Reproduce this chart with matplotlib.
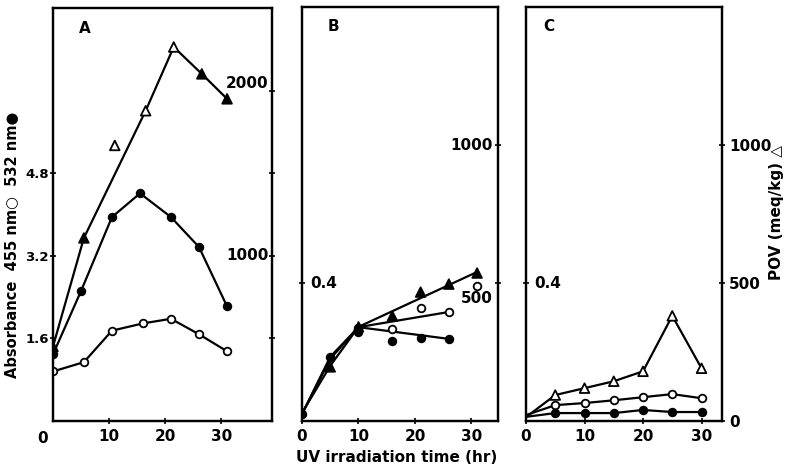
import numpy as np
import matplotlib.pyplot as plt
import matplotlib.transforms as mtransforms

plt.rcParams['font.family'] = ['DejaVu Sans']
plt.rcParams['font.weight'] = 'bold'

# panel A
tA_532 = [0, 5, 10.5, 15.5, 21, 26, 31]
abs532_A = [1.29, 2.52, 3.95, 4.41, 3.95, 3.37, 2.22]
tA_455 = [0, 5.5, 10.5, 16, 21, 26, 31]
abs455_A = [0.96, 1.14, 1.75, 1.89, 1.98, 1.68, 1.35]
tA_pov = [0, 5.5, 11, 16.5, 21.5, 26.5, 31]
pov_A = [451, 1108, 1668, 1878, 2264, 2101, 1950]
povA_online = [True, True, False, True, True, True, True]
povA_filled = [True, True, False, False, False, True, True]

# panel B (points, and the hand drawn lines through them)
tB_pov = [5, 10, 16, 21, 26, 31]
pov_B = [196, 341, 380, 467, 496, 536]
tB_pov_line = [0, 5, 10, 31]
pov_B_line = [29, 200, 341, 540]
tB_532 = [0, 5, 10, 16, 21, 26]
abs532_B = [0.02, 0.186, 0.258, 0.232, 0.24, 0.238]
tB_532_line = [0, 5, 10, 26]
abs532_B_line = [0.02, 0.186, 0.272, 0.238]
tB_455 = [10, 16, 21, 26, 31]
abs455_B = [0.27, 0.267, 0.328, 0.316, 0.39]
tB_455_line = [0, 5, 10, 26]
abs455_B_line = [0.02, 0.18, 0.272, 0.316]

# panel C
tC = [0, 5, 10, 15, 20, 25, 30]
pov_C = [14, 94, 119, 144, 180, 381, 191]
abs455_C = [0.017, 0.046, 0.052, 0.06, 0.069, 0.078, 0.066]
abs532_C = [0.012, 0.023, 0.023, 0.023, 0.032, 0.026, 0.026]

W, H = 789, 467
fig = plt.figure(figsize=(W / 100, H / 100), dpi=100)


def box(x0, x1, y0, y1):
    return [x0 / W, 1 - y1 / H, (x1 - x0) / W, (y1 - y0) / H]


lw = 1.6
ms = 5.5
FS = 11


def style(ax):
    for s in ax.spines.values():
        s.set_linewidth(1.6)
    ax.tick_params(direction='inout', length=4, width=1.2, labelsize=FS)


def circles(ax, t, v, filled):
    ax.plot(t, v, 'o', ms=ms, mfc='black' if filled else 'white',
            mec='black', mew=1.3, zorder=4)


def tris(ax, t, v, faces):
    fc = ['black' if f else 'white' for f in faces]
    ax.scatter(t, v, marker='^', s=48, facecolors=fc, edgecolors='black',
               linewidths=1.3, zorder=5)


# ---- A ----
axA = fig.add_axes(box(53, 272, 8, 421))
axA.set_xlim(0, 39)
axA.set_ylim(0, 8)
axA2 = axA.twinx()
axA2.set_ylim(0, 2500)
axA.plot(tA_532, abs532_A, color='black', lw=lw)
circles(axA, tA_532, abs532_A, True)
axA.plot(tA_455, abs455_A, color='black', lw=lw)
circles(axA, tA_455, abs455_A, False)
tl = [t for t, k in zip(tA_pov, povA_online) if k]
vl = [v for v, k in zip(pov_A, povA_online) if k]
axA2.plot(tl, vl, color='black', lw=lw)
tris(axA2, tA_pov, pov_A, povA_filled)
axA.set_xticks([10, 20, 30])
axA.set_yticks([1.6, 3.2, 4.8])
axA.set_yticklabels(['1.6', '3.2', '4.8'])
axA2.set_yticks([500, 1000, 1500, 2000])
axA2.set_yticklabels([])
style(axA)
style(axA2)
axA.tick_params(axis='y', labelsize=9.5, pad=1)
trA = mtransforms.blended_transform_factory(axA2.transAxes, axA2.transData)
axA2.text(0.985, 2000, '2000', transform=trA, ha='right', va='bottom', fontsize=FS)
axA2.text(0.985, 1000, '1000', transform=trA, ha='right', va='center', fontsize=FS)
axA.text(-0.025, -0.025, '0', transform=axA.transAxes, ha='right', va='top', fontsize=FS)
axA.text(0.12, 0.95, 'A', transform=axA.transAxes, ha='left', va='center', fontsize=FS)

# ---- B ----
axB = fig.add_axes(box(302, 498, 7, 421))
axB.set_xlim(0, 34.7)
axB.set_ylim(0, 1.2)
axB2 = axB.twinx()
axB2.set_ylim(0, 1500)
axB2.plot(tB_pov_line, pov_B_line, color='black', lw=lw)
tris(axB2, tB_pov, pov_B, [True] * len(tB_pov))
axB.plot(tB_532_line, abs532_B_line, color='black', lw=lw)
circles(axB, tB_532, abs532_B, True)
axB.plot(tB_455_line, abs455_B_line, color='black', lw=lw)
circles(axB, tB_455, abs455_B, False)
axB.set_xticks([0, 10, 20, 30])
axB.set_yticks([0.4])
axB.set_yticklabels([])
axB2.set_yticks([500, 1000])
axB2.set_yticklabels([])
style(axB)
style(axB2)
trB = mtransforms.blended_transform_factory(axB.transAxes, axB.transData)
axB.text(0.04, 0.4, '0.4', transform=trB, ha='left', va='center', fontsize=FS)
trB2 = mtransforms.blended_transform_factory(axB2.transAxes, axB2.transData)
axB2.text(0.975, 1000, '1000', transform=trB2, ha='right', va='center', fontsize=FS)
axB2.text(0.975, 470, '500', transform=trB2, ha='right', va='top', fontsize=FS)
axB.text(0.13, 0.953, 'B', transform=axB.transAxes, ha='left', va='center', fontsize=FS)

# ---- C ----
axC = fig.add_axes(box(526, 722, 7, 421))
axC.set_xlim(0, 33.5)
axC.set_ylim(0, 1.2)
axC2 = axC.twinx()
axC2.set_ylim(0, 1500)
axC2.plot(tC, pov_C, color='black', lw=lw)
tris(axC2, tC[1:], pov_C[1:], [False] * (len(tC) - 1))
axC.plot(tC, abs455_C, color='black', lw=lw)
circles(axC, tC[1:], abs455_C[1:], False)
axC.plot(tC, abs532_C, color='black', lw=lw)
circles(axC, tC[1:], abs532_C[1:], True)
axC.set_xticks([0, 10, 20, 30])
axC.set_yticks([0.4])
axC.set_yticklabels([])
axC2.set_yticks([0, 500, 1000])
axC2.set_yticklabels(['0', '500', '1000'])
style(axC)
style(axC2)
axC2.tick_params(axis='y', pad=3)
trC = mtransforms.blended_transform_factory(axC.transAxes, axC.transData)
axC.text(0.04, 0.4, '0.4', transform=trC, ha='left', va='center', fontsize=FS)
axC.text(0.087, 0.953, 'C', transform=axC.transAxes, ha='left', va='center', fontsize=FS)

fig.text(397 / W, 1 - 458 / H, 'UV irradiation time (hr)', ha='center', va='center', fontsize=FS)
fig.text(13 / W, 1 - 245 / H, 'Absorbance  455 nm\u25cb  532 nm\u25cf', rotation=90,
         ha='center', va='center', fontsize=10.5)
fig.text(776 / W, 1 - 212 / H, 'POV (meq/kg) \u25b3', rotation=90,
         ha='center', va='center', fontsize=FS)

fig.savefig('out.png', dpi=100)
